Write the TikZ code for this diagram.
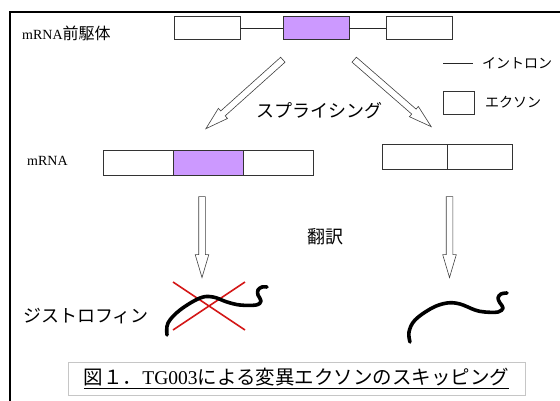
\documentclass[tikz,border=0pt]{standalone}
\usepackage{fontspec}
\setmainfont{Liberation Serif}
\newfontfamily\jpfont{Noto Sans CJK JP}
\usetikzlibrary{shapes.arrows, positioning, calc}
\definecolor{exonpurple}{RGB}{204, 153, 255}
\definecolor{crossred}{RGB}{212, 24, 24}

\begin{document}
\begin{tikzpicture}[
    x=1pt, y=-1pt,
    exon/.style={draw=black!80, fill=white, line width=0.8pt, inner sep=0pt, outer sep=0pt, minimum width=66pt, minimum height=23pt},
    seg/.style={exon, minimum width=70pt, minimum height=25pt},
    intron/.style={draw=black!85, line width=0.8pt},
    harrow/.style={single arrow, draw=black!75, fill=white, line width=0.6pt, inner xsep=0pt, inner ysep=3pt, single arrow head extend=3.5pt, single arrow tip angle=33, single arrow head indent=0pt},
    protein/.style={line width=3.6pt, line cap=round, line join=round},
    cross/.style={draw=crossred, line width=1.6pt},
    jp/.style={inner sep=0pt, font=\jpfont\fontsize{18pt}{20pt}\selectfont},
    jpsmall/.style={inner sep=0pt, font=\jpfont\fontsize{14pt}{16pt}\selectfont}
]
\useasboundingbox (0,0) rectangle (560,400);
\clip (0,0) rectangle (560,400);

% frame
\draw [line width=2.6pt] (10,12) rectangle (580,420);

% pre-mRNA
\node (lbpre) [inner sep=0pt, anchor=west, font=\fontsize{14pt}{16pt}\selectfont] at (22,33) {mRNA{\jpfont\fontsize{16pt}{18pt}\selectfont 前駆体}};
\node (pre1) [exon] at (207,28) {};
\node (pre2) [exon, fill=exonpurple, right=43pt of pre1] {};
\node (pre3) [exon, right=37pt of pre2] {};
\draw [intron] (pre1) -- (pre2);
\draw [intron] (pre2) -- (pre3);

% legend
\coordinate (lg1) at (443,63);
\coordinate (lg2) at (473,63);
\draw [intron] (lg1) -- (lg2);
\node (lgintron) [jpsmall, anchor=west] at (482,63) {イントロン};
\node (lgexon) [exon, minimum width=31pt] at (458.5,102.5) {};
\node (lgexontxt) [jpsmall, right=11pt of lgexon] {エクソン};

% splicing
\node (splice) [jp] at (319,111) {スプライシング};
\coordinate (s1a) at (287,56);
\coordinate (s1b) at (210,125);
\coordinate (s2a) at (350,56);
\coordinate (s2b) at (427,123);

% mRNA
\node (lbm) [inner sep=0pt, anchor=west, font=\fontsize{14pt}{16pt}\selectfont] at (27,161) {mRNA};
\node (m1) [seg] at (138,162.5) {};
\node (m2) [seg, fill=exonpurple, right=0pt of m1] {};
\node (m3) [seg, right=0pt of m2] {};
\node (r1) [seg, minimum width=65pt] at (414.5,156.5) {};
\node (r2) [seg, minimum width=65pt, right=0pt of r1] {};

% translation
\node (transl) [jp] at (325,237) {翻訳};
\coordinate (t1a) at (202,191);
\coordinate (t1b) at (202,272);
\coordinate (t2a) at (449.5,191);
\coordinate (t2b) at (449.5,272);

\foreach \a/\b in {s1a/s1b, s2a/s2b, t1a/t1b, t2a/t2b}
  \path let \p1=($(\b)-(\a)$), \n1={atan2(\y1,\x1)}, \n2={veclen(\x1,\y1)} in
    node [harrow, rotate=\n1, minimum height=\n2] at ($(\a)!0.5!(\b)$) {};

% dystrophin
\node (dys) [jp, anchor=west] at (23,316) {ジストロフィン};
\draw [cross] (173,282) -- (245,330);
\draw [cross] (245,282) -- (173,330);
\draw [protein] plot [smooth, tension=0.6] coordinates {(167,335) (168,323) (180,310) (200,298) (213,297) (227,302) (240,305) (256,305) (261,301) (258,295) (258,290) (262,287) (267,287)};
\draw [protein] plot [smooth, tension=0.6] coordinates {(410,342) (409,332) (415,320) (432,308) (447,303) (460,304) (475,310) (485,312) (498,312) (503,308) (500,303) (498,298) (501,294) (507,293)};

% caption
\node (cap) [draw=gray!45, fill=white, inner sep=0pt, minimum width=457pt, minimum height=33pt, font=\jpfont\fontsize{19.5pt}{22pt}\selectfont] at (296.5,378.5)
  {\underline{図１．{\rmfamily TG003}による変異エクソンのスキッピング}};

\end{tikzpicture}
\end{document}
